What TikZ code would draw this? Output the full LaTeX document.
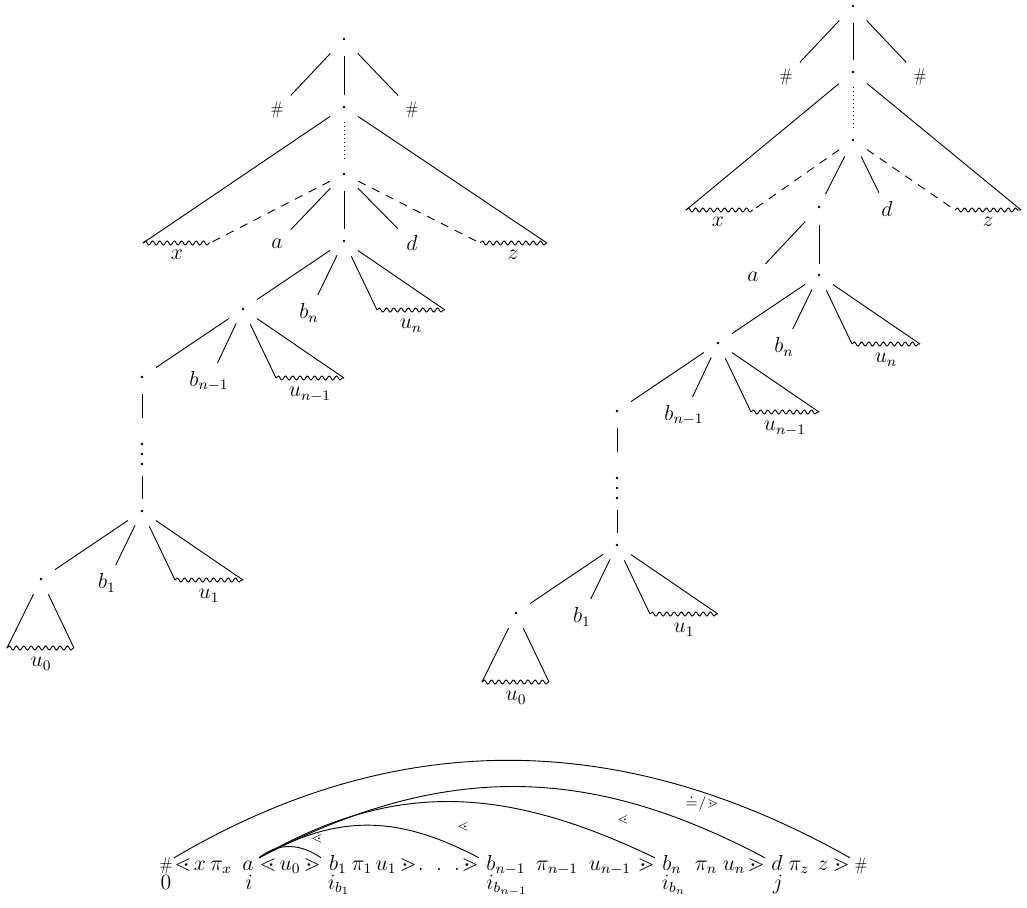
\documentclass[tikz,border=0pt]{standalone}
\usepackage{amssymb}
\usetikzlibrary{decorations.pathmorphing}
\newcommand\hsh{\scalebox{0.72}[0.84]{$\#$}}
\newcommand\lowchain{%
  \node[dotn] (n4) at (0,0) {};
  \node[dotn] (n5) at (-101,68) {};
  \node[lab] (bn) at (-35,72) {$b_n$};
  \coordinate (un1) at (33,69);
  \coordinate (un2) at (101,69);
  \node[ulab] (unl) at (67,78) {$u_n$};
  \node[dotn] (n6) at (-202,136) {};
  \node[lab] (bm) at (-135,140) {$b_{n-1}$};
  \coordinate (um1) at (-68,137);
  \coordinate (um2) at (0,137);
  \node[ulab] (uml) at (-34,146) {$u_{n-1}$};
  \node[dotn] (v1) at (-202,203) {};
  \node[dotn] (v2) at (-202,213) {};
  \node[dotn] (v3) at (-202,223) {};
  \node[dotn] (n7) at (-202,270) {};
  \node[lab] (bo) at (-237,342) {$b_1$};
  \coordinate (uo1) at (-169,339);
  \coordinate (uo2) at (-101,339);
  \node[ulab] (uol) at (-135,348) {$u_1$};
  \node[dotn] (n8) at (-303,338) {};
  \coordinate (uz1) at (-337,407);
  \coordinate (uz2) at (-270,407);
  \node[ulab] (uzl) at (-303,416) {$u_0$};
  % edges
  \draw[shorten <=8.25pt, shorten >=8.25pt] (n4) -- (n5);
  \draw[shorten <=7.7pt, shorten >=11pt] (n4) -- (bn.center);
  \draw[shorten <=8.25pt] (n4) -- (un1);
  \draw[shorten <=8.25pt] (n4) -- (un2);
  \draw[wav] (un1) -- (un2);
  \draw[shorten <=8.25pt, shorten >=8.25pt] (n5) -- (n6);
  \draw[shorten <=7.7pt, shorten >=11pt] (n5) -- (bm.center);
  \draw[shorten <=8.25pt] (n5) -- (um1);
  \draw[shorten <=8.25pt] (n5) -- (um2);
  \draw[wav] (um1) -- (um2);
  \draw[shorten <=8.25pt, shorten >=13.2pt] (n6) -- (v1);
  \draw[shorten <=5.5pt, shorten >=5.5pt] (v3) -- (n7);
  \draw[shorten <=8.25pt, shorten >=8.25pt] (n7) -- (n8);
  \draw[shorten <=7.7pt, shorten >=11pt] (n7) -- (bo.center);
  \draw[shorten <=8.25pt] (n7) -- (uo1);
  \draw[shorten <=8.25pt] (n7) -- (uo2);
  \draw[wav] (uo1) -- (uo2);
  \draw[shorten <=8.25pt] (n8) -- (uz1);
  \draw[shorten <=8.25pt] (n8) -- (uz2);
  \draw[wav] (uz1) -- (uz2);
}
\begin{document}
\begin{tikzpicture}[x=0.55pt,y=-0.55pt, line width=0.5pt,
  every node/.style={font=\fontsize{12}{14}\selectfont},
  dotn/.style={circle,fill,inner sep=0pt,minimum size=1.6pt},
  lab/.style={inner sep=0pt},
  ulab/.style={inner sep=0pt,anchor=north},
  wav/.style={decorate,decoration={snake,segment length=4pt,amplitude=1.1pt}},
  dsh/.style={dash pattern=on 4.6pt off 3.9pt},
  dtd/.style={dash pattern=on 0.4pt off 1.8pt},
  tok/.style={inner sep=0pt,anchor=base},
  alab/.style={inner sep=0pt,font=\fontsize{8}{9}\selectfont}
]
\useasboundingbox (0,0) rectangle (1027,907);

% ---------- left tree, top ----------
\node[dotn] (L-root) at (344,39) {};
\node[lab] (L-h1) at (277,110) {\hsh};
\node[lab] (L-h2) at (412,110) {\hsh};
\node[dotn] (L-n2) at (344,107) {};
\node[dotn] (L-n3) at (344,174) {};
\coordinate (L-x1) at (143,243);
\coordinate (L-x2) at (210,243);
\coordinate (L-z1) at (480,243);
\coordinate (L-z2) at (547,243);
\node[ulab] (L-xl) at (177,250) {$x$};
\node[ulab] (L-zl) at (513,250) {$z$};
\node[lab] (L-a) at (277,244) {$a$};
\node[lab] (L-d) at (412,243) {$d$};

% ---------- right tree, top ----------
\node[dotn] (R-root) at (853,6) {};
\node[lab] (R-h1) at (786,77) {\hsh};
\node[lab] (R-h2) at (920,77) {\hsh};
\node[dotn] (R-n2) at (853,72) {};
\node[dotn] (R-n3) at (853,140) {};
\coordinate (R-x1) at (686,210);
\coordinate (R-x2) at (753,210);
\coordinate (R-z1) at (955,210);
\coordinate (R-z2) at (1021,210);
\node[ulab] (R-xl) at (718,217) {$x$};
\node[ulab] (R-zl) at (988,217) {$z$};
\node[dotn] (R-na) at (819,207) {};
\node[lab] (R-d) at (887,209) {$d$};
\node[lab] (R-a) at (753,277) {$a$};

% ---------- lower chains ----------
\begin{scope}[shift={(344,241)}, name prefix=L-]
  \lowchain
\end{scope}
\begin{scope}[shift={(819,275)}, name prefix=R-]
  \lowchain
\end{scope}

% ---------- left tree edges ----------
\draw[shorten <=9.9pt, shorten >=11pt] (L-root) -- (L-h1.center);
\draw[shorten <=8.25pt, shorten >=5.5pt] (L-root) -- (L-n2);
\draw[shorten <=9.9pt, shorten >=11pt] (L-root) -- (L-h2.center);
\draw[shorten <=8.25pt] (L-n2) -- (L-x1);
\draw[shorten <=8.25pt] (L-n2) -- (L-z2);
\draw[dtd, shorten <=7.15pt, shorten >=6pt] (L-n2) -- (L-n3);
\draw[wav] (L-x1) -- (L-x2);
\draw[wav] (L-z1) -- (L-z2);
\draw[dsh, shorten <=7.7pt] (L-n3) -- (L-x2);
\draw[dsh, shorten <=7.7pt] (L-n3) -- (L-z1);
\draw[shorten <=9.9pt, shorten >=11pt] (L-n3) -- (L-a.center);
\draw[shorten <=9.9pt, shorten >=11pt] (L-n3) -- (L-d.center);
\draw[shorten <=8.25pt, shorten >=5.5pt] (L-n3) -- (L-n4);

% ---------- right tree edges ----------
\draw[shorten <=9.9pt, shorten >=11pt] (R-root) -- (R-h1.center);
\draw[shorten <=8.25pt, shorten >=5.5pt] (R-root) -- (R-n2);
\draw[shorten <=9.9pt, shorten >=11pt] (R-root) -- (R-h2.center);
\draw[shorten <=9pt] (R-n2) -- (R-x1);
\draw[shorten <=9pt] (R-n2) -- (R-z2);
\draw[dtd, shorten <=7.15pt, shorten >=5.5pt] (R-n2) -- (R-n3);
\draw[wav] (R-x1) -- (R-x2);
\draw[wav] (R-z1) -- (R-z2);
\draw[dsh, shorten <=8.25pt] (R-n3) -- (R-x2);
\draw[dsh, shorten <=8.25pt] (R-n3) -- (R-z1);
\draw[shorten <=9pt, shorten >=7pt] (R-n3) -- (R-na);
\draw[shorten <=9pt, shorten >=10pt] (R-n3) -- (R-d.center);
\draw[shorten <=10pt, shorten >=10pt] (R-na) -- (R-a.center);
\draw[shorten <=9pt, shorten >=5pt] (R-na) -- (R-n4);

% ---------- bottom string ----------
\node[tok] (s-h1) at (166,870) {\hsh};
\node[tok] (s-lt1) at (183,870) {$\lessdot$};
\node[tok] (s-x) at (200,870) {$x$};
\node[tok] (s-pix) at (221,870) {$\pi_x$};
\node[tok] (s-a) at (248,870) {$a$};
\node[tok] (s-lt2) at (268,870) {$\lessdot$};
\node[tok] (s-u0) at (290,870) {$u_0$};
\node[tok] (s-gt1) at (312,870) {$\gtrdot$};
\node[tok] (s-b1) at (338,870) {$b_1$};
\node[tok] (s-pi1) at (362,870) {$\pi_1$};
\node[tok] (s-u1) at (386,870) {$u_1$};
\node[tok] (s-gt2) at (408,870) {$\gtrdot$};
\node[tok] (s-dots) at (439,870) {$.\mkern10mu.\mkern10mu.$};
\node[tok] (s-gt3) at (470,870) {$\gtrdot$};
\node[tok] (s-bm) at (506,870) {$b_{n-1}$};
\node[tok] (s-pim) at (557,870) {$\pi_{n-1}$};
\node[tok] (s-um) at (610,870) {$u_{n-1}$};
\node[tok] (s-gt4) at (646,870) {$\gtrdot$};
\node[tok] (s-bn) at (672,870) {$b_n$};
\node[tok] (s-pin) at (706,870) {$\pi_n$};
\node[tok] (s-un) at (734,870) {$u_n$};
\node[tok] (s-gt5) at (756,870) {$\gtrdot$};
\node[tok] (s-d) at (777,870) {$d$};
\node[tok] (s-piz) at (799,870) {$\pi_z$};
\node[tok] (s-z) at (823,870) {$z$};
\node[tok] (s-gt6) at (841,870) {$\gtrdot$};
\node[tok] (s-h2) at (861,870) {\hsh};

\node[tok] (s-0) at (166,889) {$0$};
\node[tok] (s-i) at (249,889) {$i$};
\node[tok] (s-ib1) at (339,889) {$i_{b_1}$};
\node[tok] (s-ibm) at (507,889) {$i_{b_{n-1}}$};
\node[tok] (s-ibn) at (674,889) {$i_{b_n}$};
\node[tok] (s-j) at (778,889) {$j$};

% arcs
\draw (s-lt1.north west) .. controls +(220,-130) and +(-230,-130) .. (s-gt6.north east);
\draw (s-lt2.north west) .. controls +(20,-16) and +(-20,-14) .. (s-gt1.north east);
\draw (s-lt2.north west) .. controls +(80,-45) and +(-80,-42) .. (s-gt3.north east);
\draw (s-lt2.north west) .. controls +(135,-78) and +(-150,-72) .. (s-gt4.north east);
\draw (s-lt2.north west) .. controls +(190,-100) and +(-170,-90) .. (s-gt5.north east);

\node[alab] (l-1) at (317,839) {$\lessdot$};
\node[alab] (l-2) at (463,827) {$\lessdot$};
\node[alab] (l-3) at (623,820) {$\lessdot$};
\node[alab] (l-4) at (702,803) {$\mathord{\doteq}\mkern1mu/\mkern1mu\mathord{\gtrdot}$};
\end{tikzpicture}
\end{document}
